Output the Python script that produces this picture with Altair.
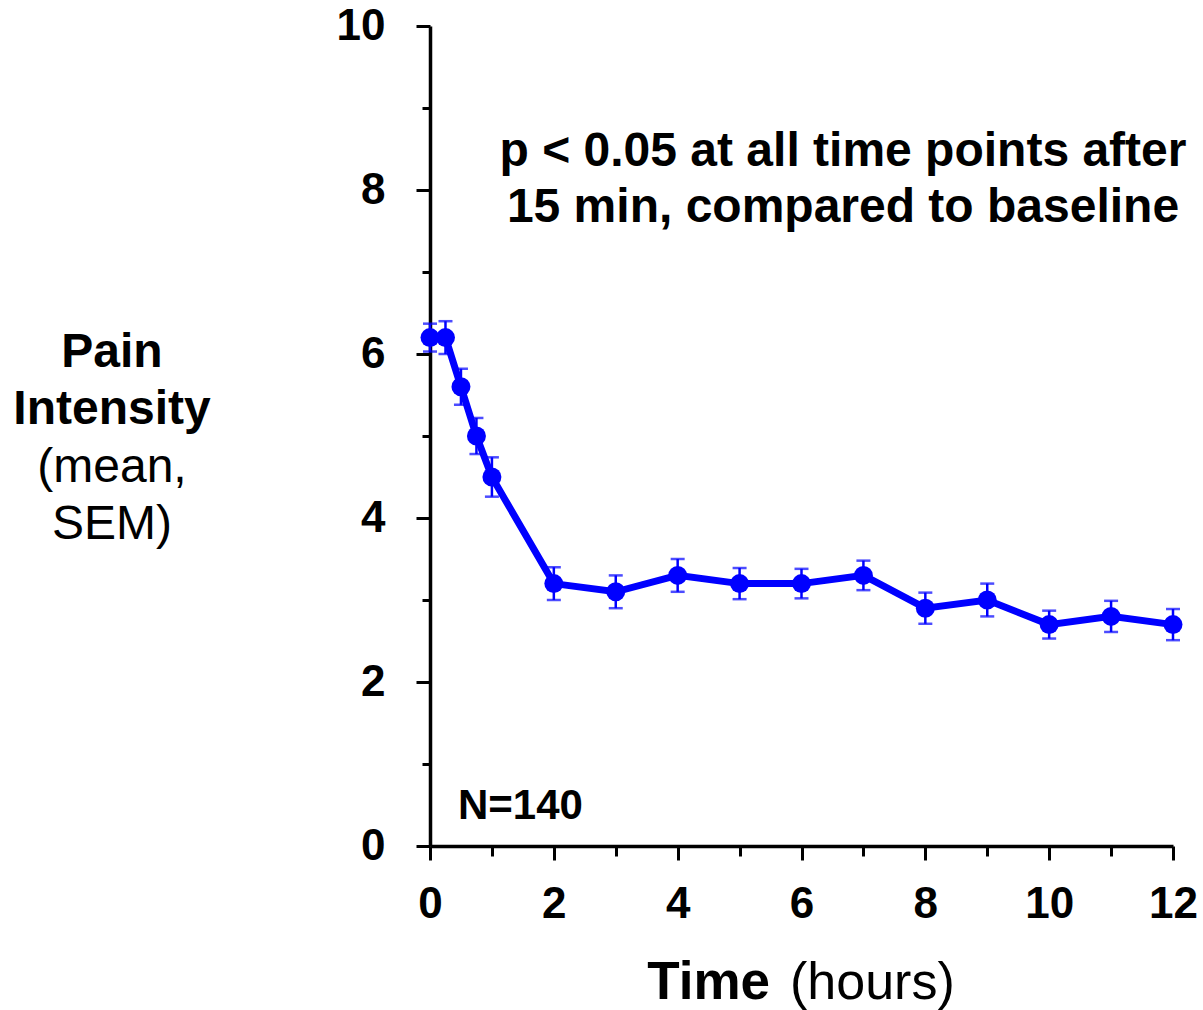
import altair as alt
import pandas as pd

# Pain intensity over time (mean and SEM), N=140
hours = [0, 0.25, 0.5, 0.75, 1, 2, 3, 4, 5, 6, 7, 8, 9, 10, 11, 12]
mean_pain = [6.2, 6.2, 5.6, 5.0, 4.5, 3.2, 3.1, 3.3, 3.2, 3.2, 3.3, 2.9, 3.0, 2.7, 2.8, 2.7]
sem_pain = [0.17, 0.2, 0.22, 0.22, 0.24, 0.2, 0.2, 0.2, 0.19, 0.18, 0.18, 0.19, 0.2, 0.17, 0.19, 0.19]

x_ticks = list(range(0, 13))
y_ticks = list(range(0, 11))

df = pd.DataFrame({"hours": hours, "mean": mean_pain, "sem": sem_pain})
df["lo"] = df["mean"] - df["sem"]
df["hi"] = df["mean"] + df["sem"]

BLUE = "#0000FF"
FONT = "Liberation Sans"

x_scale = alt.Scale(domain=[0, 12], nice=False, zero=False)
y_scale = alt.Scale(domain=[0, 10], nice=False)

x_axis = alt.Axis(
    values=x_ticks,
    format="d",
    title=None,
    grid=False,
    domainColor="black",
    domainWidth=3.5,
    tickColor="black",
    tickWidth=3,
    tickSize={"condition": {"test": "datum.value % 2 === 0", "value": 14}, "value": 10},
    labelExpr="datum.value % 2 === 0 ? datum.label : ''",
    labelFont=FONT,
    labelFontSize=44,
    labelFontWeight="bold",
    labelColor="black",
    labelPadding=22,
    labelFlush=False,
    labelOverlap=False,
)
y_axis = alt.Axis(
    values=y_ticks,
    format="d",
    title=None,
    grid=False,
    domainColor="black",
    domainWidth=3.5,
    tickColor="black",
    tickWidth=3,
    tickSize={"condition": {"test": "datum.value % 2 === 0", "value": 14}, "value": 8},
    labelExpr="datum.value % 2 === 0 ? datum.label : ''",
    labelFont=FONT,
    labelFontSize=44,
    labelFontWeight="bold",
    labelColor="black",
    labelPadding=31,
    labelOverlap=False,
)

base = alt.Chart(df)

line = base.mark_line(color=BLUE, strokeWidth=7).encode(
    x=alt.X("hours:Q", scale=x_scale, axis=x_axis),
    y=alt.Y("mean:Q", scale=y_scale, axis=y_axis),
)
bars = base.mark_rule(color=BLUE, strokeWidth=2.5).encode(
    x=alt.X("hours:Q", scale=x_scale),
    y=alt.Y("lo:Q", scale=y_scale),
    y2="hi:Q",
)
caps_hi = base.mark_tick(color=BLUE, orient="horizontal", size=14, thickness=2.5).encode(
    x=alt.X("hours:Q", scale=x_scale),
    y=alt.Y("hi:Q", scale=y_scale),
)
caps_lo = base.mark_tick(color=BLUE, orient="horizontal", size=14, thickness=2.5).encode(
    x=alt.X("hours:Q", scale=x_scale),
    y=alt.Y("lo:Q", scale=y_scale),
)
points = base.mark_point(color=BLUE, filled=True, opacity=1, size=360).encode(
    x=alt.X("hours:Q", scale=x_scale),
    y=alt.Y("mean:Q", scale=y_scale),
)

# Text annotations
def label(text, x, y, size=40, weight="bold", align="center", baseline="middle", line_height=None):
    kw = dict(font=FONT, fontSize=size, fontWeight=weight, align=align,
              baseline=baseline, color="black")
    if line_height is not None:
        kw["lineHeight"] = line_height
        kw["lineBreak"] = "\n"
    return alt.Chart(pd.DataFrame({"t": [text]})).mark_text(**kw).encode(
        text="t:N", x=alt.value(x), y=alt.value(y)
    )

note = label("p < 0.05 at all time points after\n15 min, compared to baseline",
             413, 126, size=48, line_height=56)
n_label = label("N=140", 28, 780, size=42, align="left")
y_title = [
    label("Pain", -318, 327, size=48, weight="bold"),
    label("Intensity", -318, 384, size=48, weight="bold"),
    label("(mean,", -318, 442, size=48, weight="normal"),
    label("SEM)", -318, 499, size=48, weight="normal"),
]
x_title_a = label("Time", 340, 957, size=53, weight="bold", align="right")
x_title_b = label("(hours)", 360, 957, size=52, weight="normal", align="left")

chart = alt.layer(
    line, bars, caps_hi, caps_lo, points, note, n_label, *y_title, x_title_a, x_title_b
).properties(
    width=743,
    height=820,
    autosize=alt.AutoSizeParams(type="none"),
    padding={"left": 430, "top": 26, "right": 30, "bottom": 164},
    background="white",
).configure_view(stroke=None)

chart.save("out.html", embed_options={"renderer": "svg", "actions": False})
